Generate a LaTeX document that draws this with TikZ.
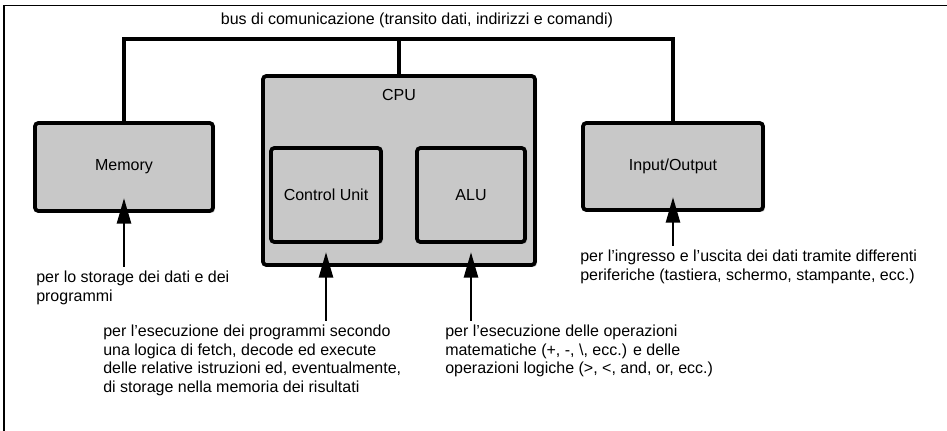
\documentclass[tikz,border=0pt]{standalone}
\usepackage{fontspec}
\setmainfont{Liberation Sans}
\usepackage{tikz}
\usetikzlibrary{arrows.meta, shadows}
\colorlet{boxgray}{gray!43}

\begin{document}
\begin{tikzpicture}[x=0.75pt, y=-0.75pt,
        font=\fontsize{12}{13.8}\selectfont,
        unit/.style={draw, line width=2.8pt, rounded corners=2.5pt, fill=boxgray,
            drop shadow={shadow xshift=1.5pt, shadow yshift=-1.5pt, opacity=0.35}},
        bus/.style={line width=2.5pt},
        note/.style={anchor=north west, align=left, inner sep=0pt},
        pointer/.style={line width=1.8pt, -{Triangle[length=19pt, width=10.5pt]},
            shorten <=3pt, shorten >=-11pt}]
        \useasboundingbox (0, 0) rectangle (947, 431);
        \draw[line width=1.3pt] (4, 431) -- (4, 5.5) -- (947, 5.5);

        \node[anchor=base] (buslabel) at (417, 25) {bus di comunicazione (transito dati, indirizzi e comandi)};
        \coordinate (busmid) at (399, 39);

        \node[unit, minimum width=133.5pt, minimum height=66pt] (mem) at (124, 167) {Memory};
        \node[unit, minimum width=204pt, minimum height=141.75pt] (cpu) at (399, 170.5) {};
        \node (cpulabel) at (399, 95) {CPU};
        \node[unit, minimum width=82.5pt, minimum height=70.5pt] (cu) at (326, 195) {Control Unit};
        \node[unit, minimum width=81pt, minimum height=70.5pt] (alu) at (471, 195) {ALU};
        \node[unit, minimum width=135pt, minimum height=65.25pt] (io) at (673, 166.5) {Input/Output};

        \draw[bus] (mem.north) |- (busmid) -| (io.north);
        \draw[bus] (cpu.north) -- (busmid);

        %%%

        \node[note] (memnote) at (36, 271) {per lo storage dei dati e dei\\programmi};
        \node[note] (cunote) at (103, 325) {per l’esecuzione dei programmi secondo\\una logica di fetch, decode ed execute\\delle relative istruzioni ed, eventualmente,\\di storage nella memoria dei risultati};
        \node[note] (alunote) at (445, 325) {per l’esecuzione delle operazioni\\matematiche (+, -, \textbackslash, ecc.) e delle\\operazioni logiche (>, <, and, or, ecc.)};
        \node[note] (ionote) at (580, 250) {per l’ingresso e l’uscita dei dati tramite differenti\\periferiche (tastiera, schermo, stampante, ecc.)};

        \draw[pointer] (mem.south |- memnote.north) -- (mem.south);
        \draw[pointer] (cu.south |- cunote.north) -- (cu.south |- cpu.south);
        \draw[pointer] (alu.south |- alunote.north) -- (alu.south |- cpu.south);
        \draw[pointer] (io.south |- ionote.north) -- (io.south);
    \end{tikzpicture}
\end{document}
